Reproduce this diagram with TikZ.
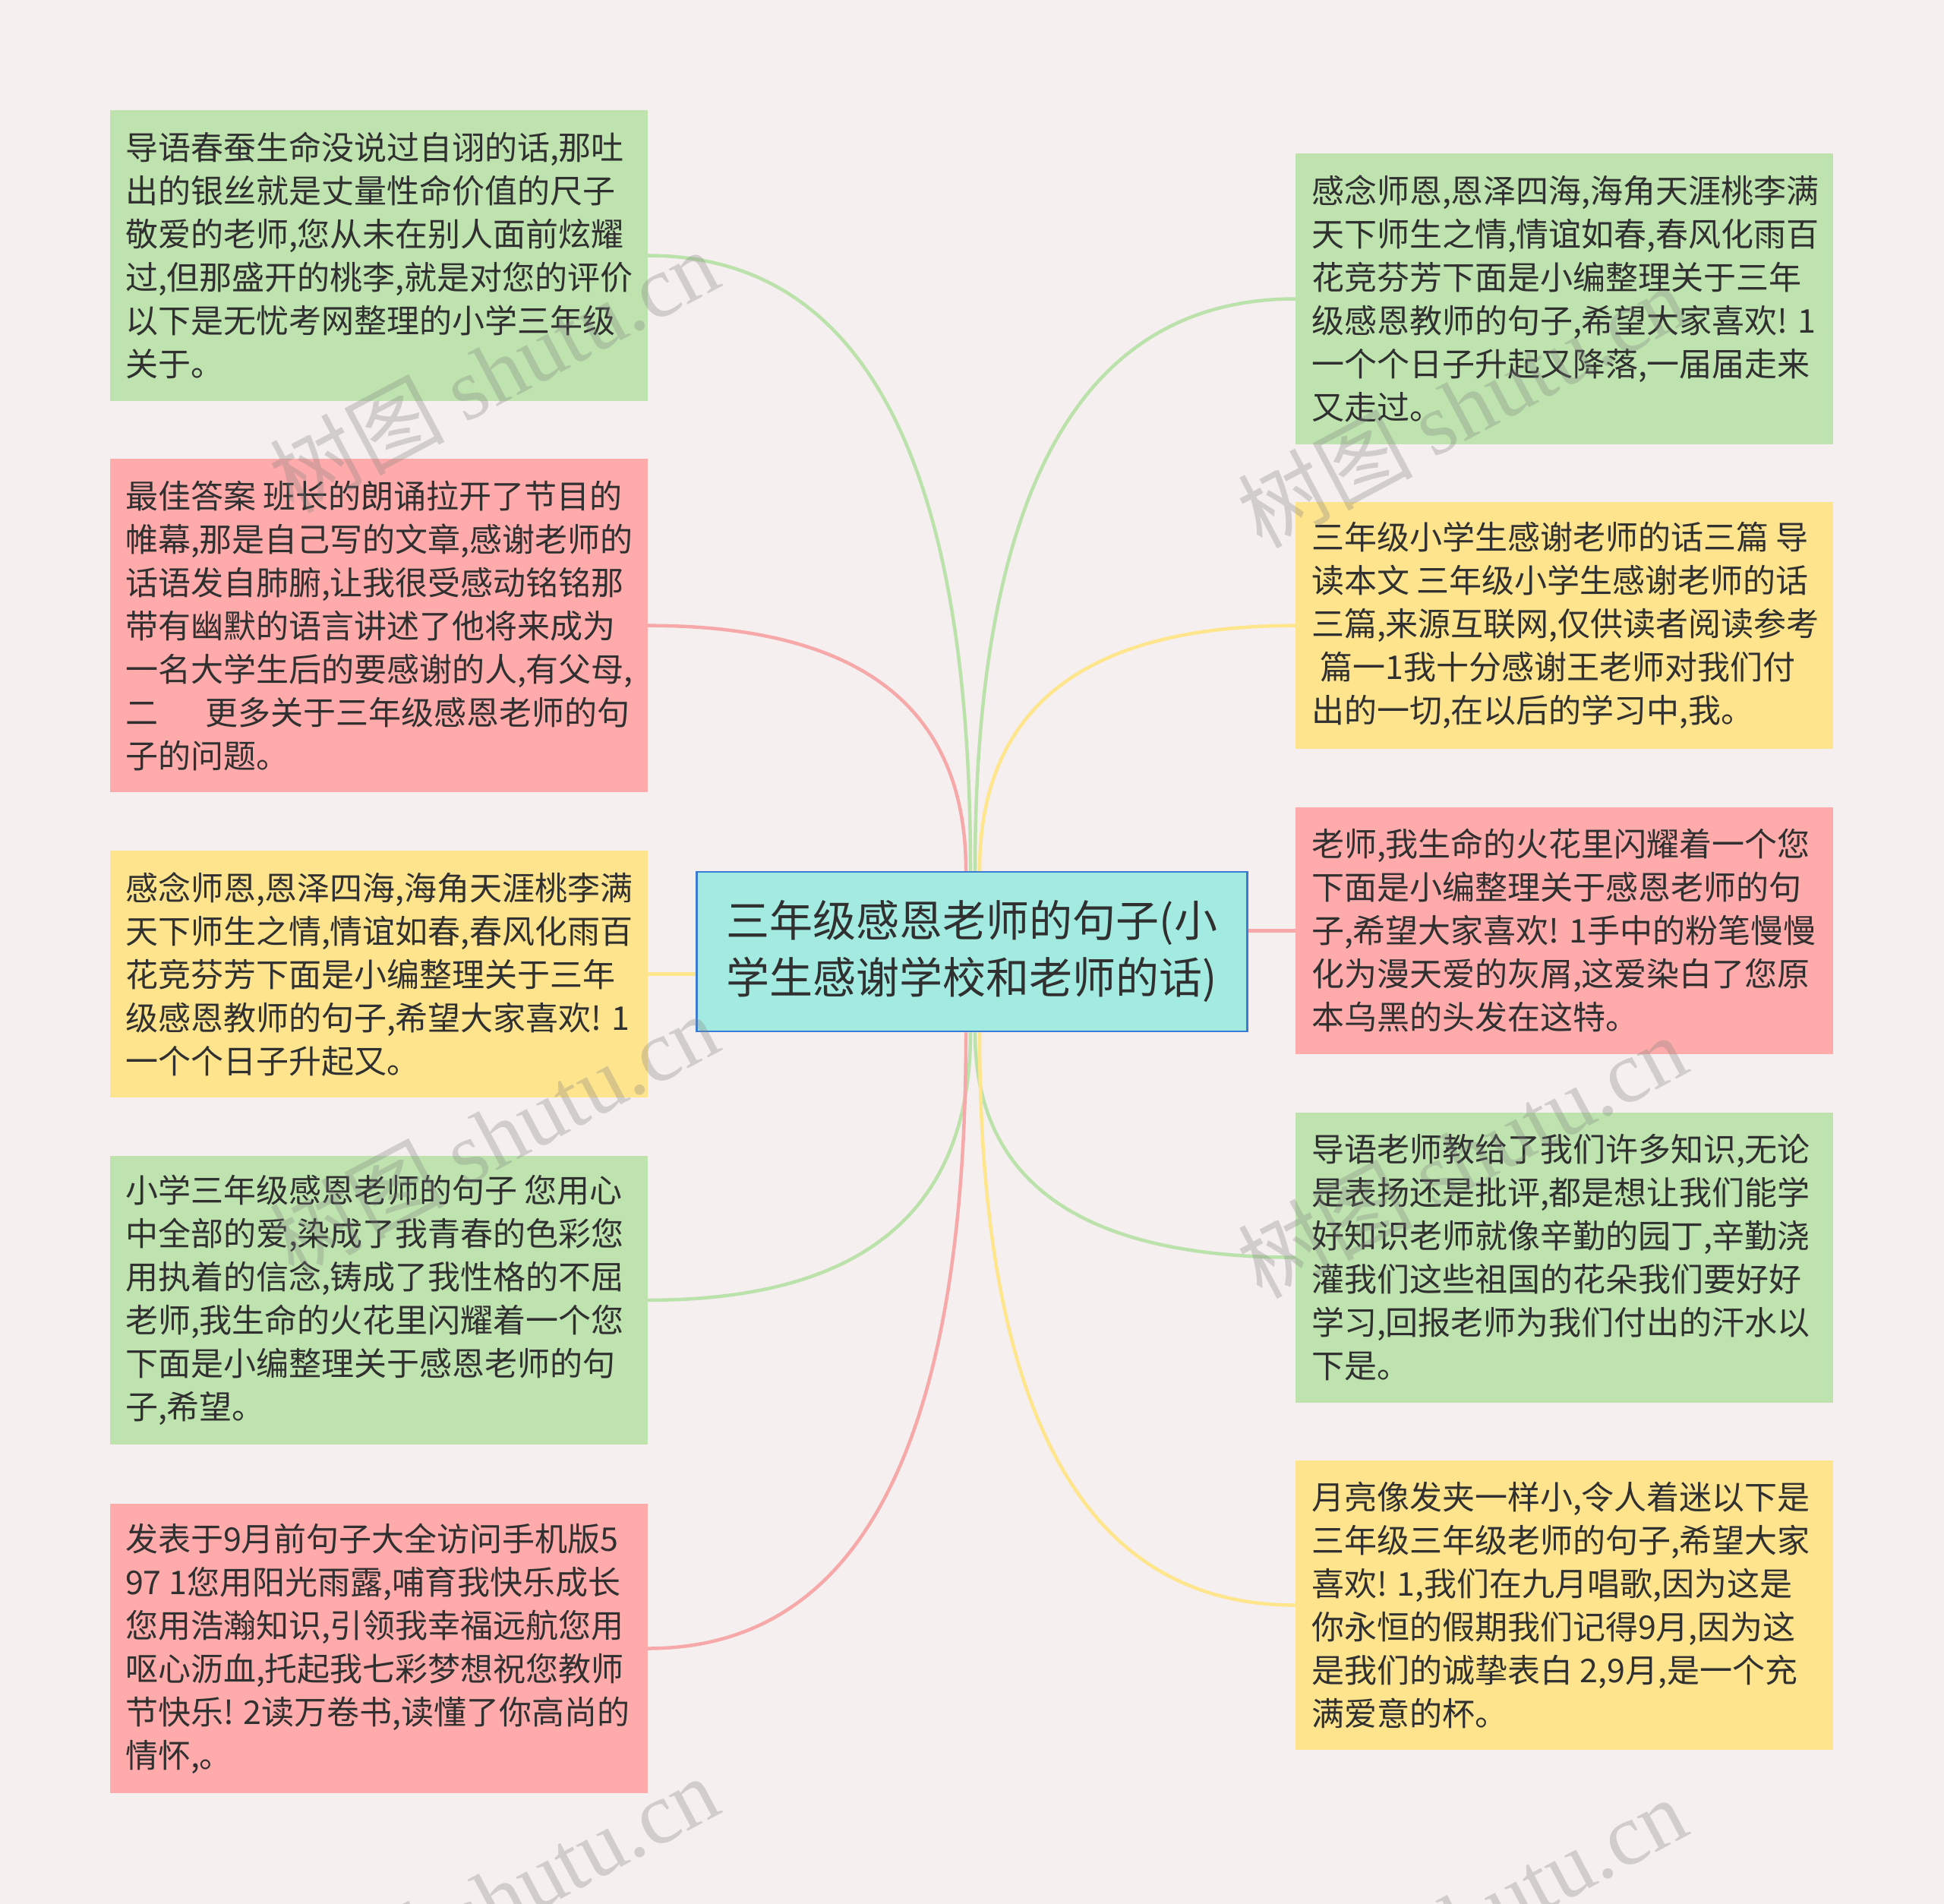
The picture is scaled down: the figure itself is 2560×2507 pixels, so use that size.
\documentclass[tikz,border=0pt]{standalone}
\usepackage{fontspec}
\setmainfont{Noto Sans CJK SC}
\newfontfamily\wmserif{Liberation Serif}
\usetikzlibrary{calc}
\definecolor{bgc}{HTML}{F5EFEF}
\definecolor{gfill}{HTML}{BEE3AE}
\definecolor{rfill}{HTML}{FFABAB}
\definecolor{yfill}{HTML}{FFE48E}
\definecolor{cfill}{HTML}{A3EBE1}
\definecolor{cdraw}{HTML}{3A7BD5}
\definecolor{gline}{HTML}{BCE2AC}
\definecolor{rline}{HTML}{F7A9A9}
\definecolor{yline}{HTML}{FFE58C}
\definecolor{txtc}{HTML}{303030}
\newcommand\linkcurve[3]{\draw[#1] (#2) .. controls ($(#2)!0.667!(#3 |- #2)$) and ($(#3)!0.667!(#3 |- #2)$) .. (#3);}
\begin{document}
\begin{tikzpicture}[x=1pt,y=-1pt,
  leafbox/.style={rectangle, inner sep=0pt, draw=none, minimum width=708pt},
  leaftext/.style={inner sep=0pt, align=left, text=txtc, font=\fontsize{43pt}{57pt}\selectfont},
  centerbox/.style={rectangle, inner sep=0pt, fill=cfill, draw=cdraw, line width=2.5pt, minimum width=725pt, minimum height=210pt, align=center, text=txtc, font=\fontsize{57pt}{75pt}\selectfont},
  link/.style={line width=4.5pt},
  wm/.style={text=gray, opacity=0.3, font=\fontsize{115pt}{120pt}\selectfont, inner sep=0pt}]
\useasboundingbox (0,0) rectangle (2560,2507);
\clip (0,0) rectangle (2560,2507);
\fill[bgc] (0,0) rectangle (2560,2507);

% center
\node[centerbox] (ctr) at (1280,1253) {三年级感恩老师的句子(小\\学生感谢学校和老师的话)};
\coordinate (tA) at ([xshift=-8pt]ctr.north);
\coordinate (tB) at ([xshift=-2pt]ctr.north);
\coordinate (tC) at ([xshift=4pt]ctr.north);
\coordinate (tD) at ([xshift=10pt]ctr.north);
\coordinate (bA) at ([xshift=-8pt]ctr.south);
\coordinate (bB) at ([xshift=-2pt]ctr.south);
\coordinate (bC) at ([xshift=4pt]ctr.south);
\coordinate (bD) at ([xshift=10pt]ctr.south);

% left boxes
\node[leafbox, fill=gfill, minimum height=382pt] (l1) at (499,336.5) {};
\node[leafbox, fill=rfill, minimum height=439pt] (l2) at (499,823.7) {};
\node[leafbox, fill=yfill, minimum height=325pt] (l3) at (499,1282.6) {};
\node[leafbox, fill=gfill, minimum height=380pt] (l4) at (499,1711.9) {};
\node[leafbox, fill=rfill, minimum height=381pt] (l5) at (499,2170.5) {};
% right boxes
\node[leafbox, fill=gfill, minimum height=382pt] (r1) at (2060,393.5) {};
\node[leafbox, fill=yfill, minimum height=325pt] (r2) at (2060,823.7) {};
\node[leafbox, fill=rfill, minimum height=325pt] (r3) at (2060,1225.3) {};
\node[leafbox, fill=gfill, minimum height=382pt] (r4) at (2060,1655.6) {};
\node[leafbox, fill=yfill, minimum height=381pt] (r5) at (2060,2113.5) {};

% connectors
\linkcurve{link, gline}{l1.east}{tB}
\linkcurve{link, rline}{l2.east}{tA}
\draw[link, yline] (l3.east) -- (l3.east -| ctr.west);
\linkcurve{link, gline}{l4.east}{bB}
\linkcurve{link, rline}{l5.east}{bA}
\linkcurve{link, gline}{r1.west}{tC}
\linkcurve{link, yline}{r2.west}{tD}
\draw[link, rline] (r3.west) -- (r3.west -| ctr.east);
\linkcurve{link, gline}{r4.west}{bC}
\linkcurve{link, yline}{r5.west}{bD}

% texts
\node[leaftext, anchor=west] (l1t) at ([xshift=20pt]l1.west) {导语春蚕生命没说过自诩的话,那吐\\出的银丝就是丈量性命价值的尺子\\敬爱的老师,您从未在别人面前炫耀\\过,但那盛开的桃李,就是对您的评价\\以下是无忧考网整理的小学三年级\\关于。};
\node[leaftext, anchor=west] (l2t) at ([xshift=20pt]l2.west) {最佳答案 班长的朗诵拉开了节目的\\帷幕,那是自己写的文章,感谢老师的\\话语发自肺腑,让我很受感动铭铭那\\带有幽默的语言讲述了他将来成为\\一名大学生后的要感谢的人,有父母,\\二\hspace{1.45em}更多关于三年级感恩老师的句\\子的问题。};
\node[leaftext, anchor=west] (l3t) at ([xshift=20pt]l3.west) {感念师恩,恩泽四海,海角天涯桃李满\\天下师生之情,情谊如春,春风化雨百\\花竞芬芳下面是小编整理关于三年\\级感恩教师的句子,希望大家喜欢! 1\\一个个日子升起又。};
\node[leaftext, anchor=west] (l4t) at ([xshift=20pt]l4.west) {小学三年级感恩老师的句子 您用心\\中全部的爱,染成了我青春的色彩您\\用执着的信念,铸成了我性格的不屈\\老师,我生命的火花里闪耀着一个您\\下面是小编整理关于感恩老师的句\\子,希望。};
\node[leaftext, anchor=west] (l5t) at ([xshift=20pt]l5.west) {发表于9月前句子大全访问手机版5\\97 1您用阳光雨露,哺育我快乐成长\\您用浩瀚知识,引领我幸福远航您用\\呕心沥血,托起我七彩梦想祝您教师\\节快乐!\hspace{0.3em}2读万卷书,读懂了你高尚的\\情怀,。};
\node[leaftext, anchor=west] (r1t) at ([xshift=21pt]r1.west) {感念师恩,恩泽四海,海角天涯桃李满\\天下师生之情,情谊如春,春风化雨百\\花竞芬芳下面是小编整理关于三年\\级感恩教师的句子,希望大家喜欢! 1\\一个个日子升起又降落,一届届走来\\又走过。};
\node[leaftext, anchor=west] (r2t) at ([xshift=21pt]r2.west) {三年级小学生感谢老师的话三篇 导\\读本文 三年级小学生感谢老师的话\\三篇,来源互联网,仅供读者阅读参考\\\hspace*{0.27em}篇一1我十分感谢王老师对我们付\\出的一切,在以后的学习中,我。};
\node[leaftext, anchor=west] (r3t) at ([xshift=21pt]r3.west) {老师,我生命的火花里闪耀着一个您\\下面是小编整理关于感恩老师的句\\子,希望大家喜欢! 1手中的粉笔慢慢\\化为漫天爱的灰屑,这爱染白了您原\\本乌黑的头发在这特。};
\node[leaftext, anchor=west] (r4t) at ([xshift=21pt]r4.west) {导语老师教给了我们许多知识,无论\\是表扬还是批评,都是想让我们能学\\好知识老师就像辛勤的园丁,辛勤浇\\灌我们这些祖国的花朵我们要好好\\学习,回报老师为我们付出的汗水以\\下是。};
\node[leaftext, anchor=west] (r5t) at ([xshift=21pt]r5.west) {月亮像发夹一样小,令人着迷以下是\\三年级三年级老师的句子,希望大家\\喜欢! 1,我们在九月唱歌,因为这是\\你永恒的假期我们记得9月,因为这\\是我们的诚挚表白 2,9月,是一个充\\满爱意的杯。};

% watermarks
\node[wm, rotate=28] (w1) at (650,488) {树图 {\wmserif shutu.cn}};
\node[wm, rotate=28] (w2) at (1925,534) {树图 {\wmserif shutu.cn}};
\node[wm, rotate=28] (w3) at (650,1494) {树图 {\wmserif shutu.cn}};
\node[wm, rotate=28] (w4) at (1925,1522) {树图 {\wmserif shutu.cn}};
\node[wm, rotate=28] (w5) at (650,2498) {树图 {\wmserif shutu.cn}};
\node[wm, rotate=28] (w6) at (1925,2526) {树图 {\wmserif shutu.cn}};
\end{tikzpicture}
\end{document}
